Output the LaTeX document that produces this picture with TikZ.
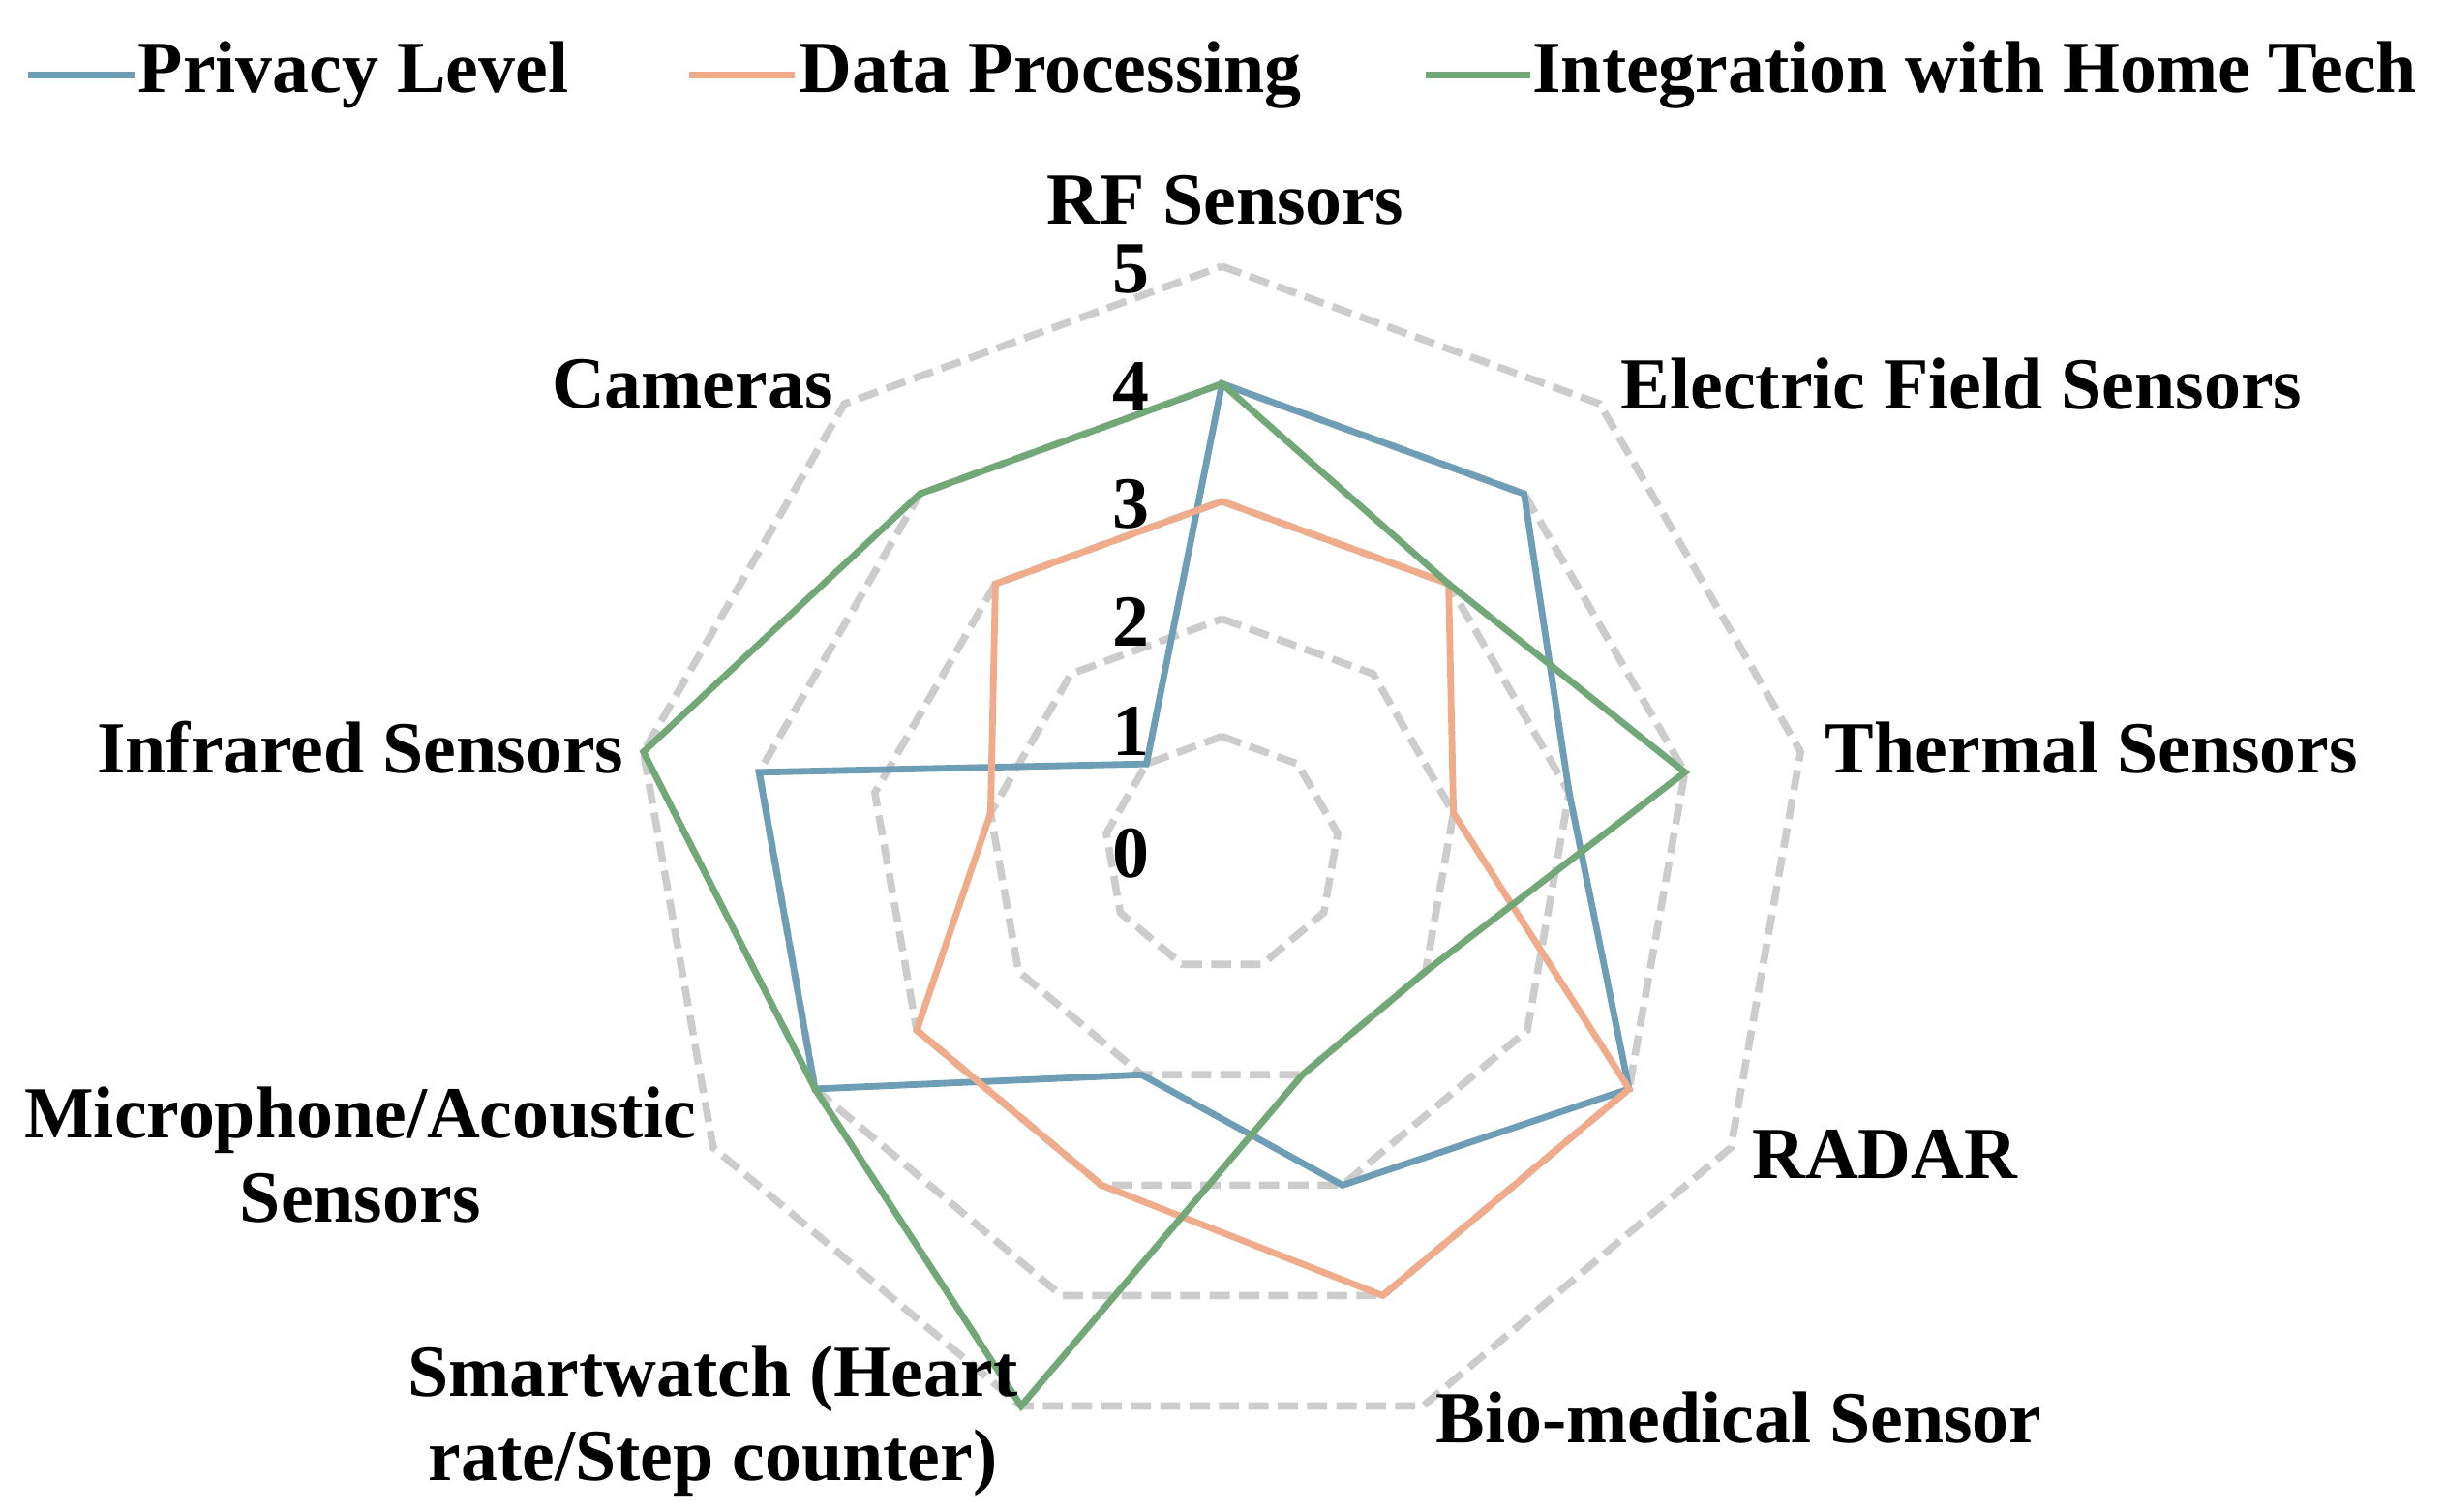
\documentclass[tikz,border=0pt]{standalone}
\usepackage{fontspec}
\setmainfont{Liberation Serif}
\begin{document}
\begin{tikzpicture}[x=0.3mm,y=-0.3mm,
  grid/.style={draw=black!20,line width=4pt,dash pattern=on 11pt off 5pt},
  ser/.style={line width=3.6pt,line join=miter},
  lab/.style={font=\bfseries\fontsize{40}{46}\selectfont,align=center,inner sep=0pt},
  num/.style={font=\bfseries\fontsize{40}{46}\selectfont,inner sep=0pt}]
\definecolor{cb}{HTML}{6E9DB6}
\definecolor{co}{HTML}{F0AC8A}
\definecolor{cg}{HTML}{72A777}
\useasboundingbox (0,0) rectangle (1560,965);
\fill[white] (0,0) rectangle (1560,965);
\begin{scope}[shift={(780,545)},x=22.5mm,y=22.5mm]
  \foreach \r in {1,...,5}
    \draw[grid] (90:\r) \foreach \k in {1,...,8}{ -- (90-40*\k:\r)} -- cycle;
  \foreach \v [count=\k from 0] in {4,4,3,4,3,2,4,4,1}
    \coordinate (b\k) at (90-40*\k:\v);
  \foreach \v [count=\k from 0] in {3,3,2,4,4,3,3,2,3}
    \coordinate (o\k) at (90-40*\k:\v);
  \foreach \v [count=\k from 0] in {4,3,4,2,2,5,4,5,4}
    \coordinate (g\k) at (90-40*\k:\v);
  \draw[ser,cb] (b0)--(b1)--(b2)--(b3)--(b4)--(b5)--(b6)--(b7)--(b8)--cycle;
  \draw[ser,co] (o0)--(o1)--(o2)--(o3)--(o4)--(o5)--(o6)--(o7)--(o8)--cycle;
  \draw[ser,cg] (g0)--(g1)--(g2)--(g3)--(g4)--(g5)--(g6)--(g7)--(g8)--cycle;
\end{scope}
\foreach \n/\y in {0/545,1/467,2/397,3/322,4/247,5/172}
  \node[num] (n\n) at (722,\y) {\n};
\node[lab] (l0) at (782,128) {RF Sensors};
\node[lab] (l1) at (1252,245) {Electric Field Sensors};
\node[lab] (l2) at (1335,477) {Thermal Sensors};
\node[lab] (l3) at (1203,737) {RADAR};
\node[lab] (l4) at (1110,905) {Bio-medical Sensor};
\node[lab] (l5) at (455,907) {Smartwatch (Heart\\rate/Step counter)};
\node[lab] (l6) at (230,737) {Microphone/Acoustic\\Sensors};
\node[lab] (l7) at (230,477) {Infrared Sensors};
\node[lab] (l8) at (442,245) {Cameras};
% legend
\coordinate (a1) at (18,48); \coordinate (a2) at (86,48);
\coordinate (c1) at (440,48); \coordinate (c2) at (507,48);
\coordinate (d1) at (910,48); \coordinate (d2) at (977,48);
\draw[ser,cb] (a1)--(a2); \draw[ser,co] (c1)--(c2); \draw[ser,cg] (d1)--(d2);
\node[lab,anchor=west] (t1) at (88,48) {Privacy Level};
\node[lab,anchor=west] (t2) at (510,48) {Data Processing};
\node[lab,anchor=west] (t3) at (978,48) {Integration with Home Tech};
\end{tikzpicture}
\end{document}
